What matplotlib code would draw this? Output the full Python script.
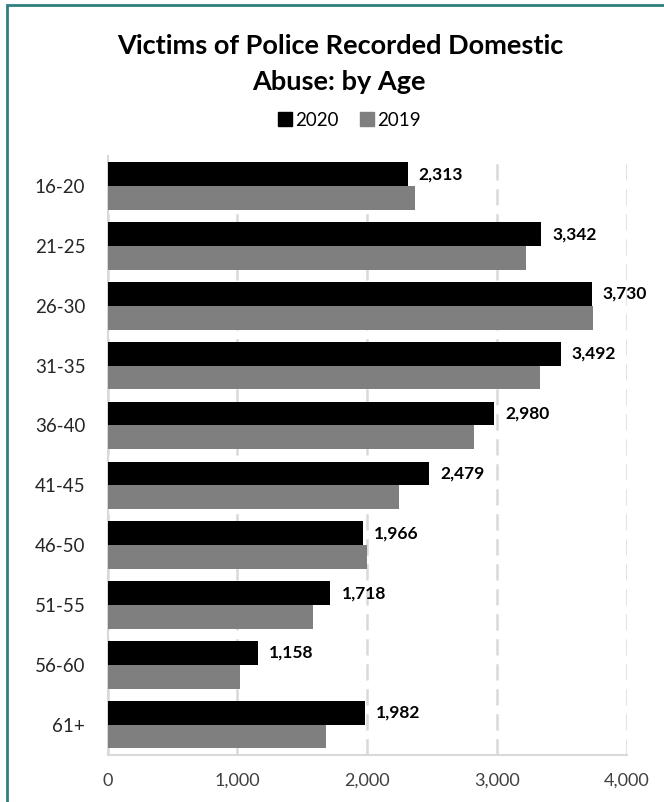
import matplotlib
matplotlib.use("Agg")
import matplotlib.pyplot as plt
from matplotlib.lines import Line2D
from matplotlib.patches import Rectangle
import numpy as np

# Victims by age band
age_groups = ["16-20", "21-25", "26-30", "31-35", "36-40",
              "41-45", "46-50", "51-55", "56-60", "61+"]
victims_2020 = [2313, 3342, 3730, 3492, 2980, 2479, 1966, 1718, 1158, 1982]
victims_2019 = [2370, 3224, 3738, 3329, 2821, 2243, 2000, 1580, 1021, 1684]
x_ticks = [0, 1000, 2000, 3000, 4000]

FONT = ["Lato", "DejaVu Sans"]
plt.rcParams["font.family"] = FONT

fig = plt.figure(figsize=(6.64, 8.02), dpi=100)
ax = fig.add_axes([0.162, 0.0591, 0.7817, 0.7461])

n = len(age_groups)
pos = np.arange(n)
bar_h = 0.398
ax.barh(pos - bar_h / 2, victims_2020, height=bar_h, color="#000000", label="2020", zorder=3)
ax.barh(pos + bar_h / 2, victims_2019, height=bar_h, color="#7f7f7f", label="2019", zorder=3)

for p, v in zip(pos, victims_2020):
    ax.text(v + 85, p - bar_h / 2, f"{v:,}", va="center", ha="left",
            fontsize=12.5, fontweight="bold", color="#000000")

ax.set_ylim(n - 0.5, -0.5)
ax.set_xlim(0, 4000)
ax.set_yticks(pos)
ax.set_yticklabels(age_groups, fontsize=13.5, color="#262626")
ax.set_xticks(x_ticks)
ax.set_xticklabels([f"{t:,}" for t in x_ticks], fontsize=13, color="#404040")
ax.tick_params(axis="both", length=0)
ax.tick_params(axis="y", pad=16)
ax.tick_params(axis="x", pad=13)

ax.xaxis.grid(True, color="#d9d9d9", linewidth=1.8, linestyle=(0, (6.5, 3.5)), zorder=0)
ax.set_axisbelow(True)
for s in ["top", "right"]:
    ax.spines[s].set_visible(False)
for s in ["left", "bottom"]:
    ax.spines[s].set_color("#d9d9d9")
    ax.spines[s].set_linewidth(1.5)

fig.text(0.512, 1 - 46 / 802, "Victims of Police Recorded Domestic", ha="center", va="center",
         fontsize=19.5, fontweight="bold", color="#000000")
fig.text(0.510, 1 - 82 / 802, "Abuse: by Age", ha="center", va="center",
         fontsize=19.5, fontweight="bold", color="#000000")

handles = [Line2D([], [], marker="s", linestyle="none", markersize=9.5, color="#000000"),
           Line2D([], [], marker="s", linestyle="none", markersize=9.5, color="#7f7f7f")]
fig.legend(handles, ["2020", "2019"], loc="center", bbox_to_anchor=(348 / 664, 1 - 120 / 802),
           ncol=2, frameon=False, fontsize=13.5, handletextpad=0.05,
           columnspacing=1.0, handlelength=1.0)

# teal frame around the chart
fig.patches.append(Rectangle((7 / 664, -0.05), 1.2, 1 - 5 / 802 + 0.05,
                             transform=fig.transFigure, fill=False,
                             edgecolor="#2e7f80", linewidth=2.0))

fig.savefig("out.png", dpi=100)
